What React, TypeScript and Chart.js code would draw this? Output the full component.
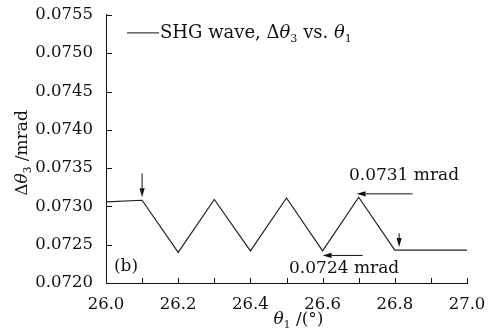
import React, { useEffect, useRef } from "react";
import { Chart, registerables } from "chart.js";

Chart.register(...registerables);

// Data
const thetaValues = [26.0, 26.1, 26.2, 26.3, 26.4, 26.5, 26.6, 26.7, 26.8, 27.0];
const deltaValues = [0.07306, 0.07308, 0.0724, 0.07309, 0.07242, 0.07311, 0.07242, 0.07312, 0.07243, 0.07243];
const xMinorTicks = [26.1, 26.3, 26.5, 26.7, 26.9];
const legendLabel = "SHG wave";

// Annotation arrows: [x0, y0, x1, y1] in data units (head at x1,y1)
const arrowDown1 = [26.1, 0.07343, 26.1, 0.07312];
const arrowDown2 = [26.812, 0.07265, 26.812, 0.07247];
const arrowLeft1 = [26.849, 0.073164, 26.694, 0.073164];
const arrowLeft2 = [26.711, 0.07236, 26.6, 0.07236];
const noteHigh = { text: "0.0731 mrad", x: 26.673, y: 0.0734 };
const noteLow = { text: "0.0724 mrad", x: 26.507, y: 0.07219 };
const panelLabel = { text: "(b)", x: 26.022, y: 0.07222 };

const SERIF = '"DejaVu Serif", "Liberation Serif", serif';

type Seg = { t: string; it?: boolean; sub?: boolean };

function drawRich(ctx: CanvasRenderingContext2D, segs: Seg[], x: number, y: number, size: number, measureOnly = false) {
  let cx = x;
  for (const s of segs) {
    const fs = s.sub ? size * 0.62 : size;
    ctx.font = `${s.it ? "italic " : ""}${fs}px ${SERIF}`;
    const w = ctx.measureText(s.t).width;
    if (!measureOnly) ctx.fillText(s.t, cx, s.sub ? y + size * 0.32 : y);
    cx += w;
  }
  return cx - x;
}

function arrow(ctx: CanvasRenderingContext2D, x0: number, y0: number, x1: number, y1: number) {
  const ang = Math.atan2(y1 - y0, x1 - x0);
  const hl = 9;
  const hw = 2.6;
  const bx = x1 - hl * Math.cos(ang);
  const by = y1 - hl * Math.sin(ang);
  ctx.beginPath();
  ctx.moveTo(x0, y0);
  ctx.lineTo(bx, by);
  ctx.stroke();
  ctx.beginPath();
  ctx.moveTo(x1, y1);
  ctx.lineTo(bx + hw * Math.sin(ang), by - hw * Math.cos(ang));
  ctx.lineTo(bx - hw * Math.sin(ang), by + hw * Math.cos(ang));
  ctx.closePath();
  ctx.fill();
}

const overlayPlugin = {
  id: "overlay",
  afterDraw(chart: any) {
    const ctx: CanvasRenderingContext2D = chart.ctx;
    const xs = chart.scales.x;
    const ys = chart.scales.y;
    const area = chart.chartArea;
    ctx.save();
    ctx.strokeStyle = "#111";
    ctx.fillStyle = "#111";
    ctx.lineWidth = 1;

    // inward ticks
    ctx.beginPath();
    xs.ticks.forEach((t: any) => {
      const px = Math.round(xs.getPixelForValue(t.value)) + 0.5;
      ctx.moveTo(px, area.bottom);
      ctx.lineTo(px, area.bottom - 5);
    });
    xMinorTicks.forEach((v) => {
      const px = Math.round(xs.getPixelForValue(v)) + 0.5;
      ctx.moveTo(px, area.bottom);
      ctx.lineTo(px, area.bottom - 5);
    });
    ys.ticks.forEach((t: any) => {
      const py = Math.round(ys.getPixelForValue(t.value)) + 0.5;
      ctx.moveTo(area.left, py);
      ctx.lineTo(area.left + 6, py);
    });
    ctx.stroke();

    // arrows
    ctx.lineWidth = 1;
    for (const a of [arrowDown1, arrowDown2, arrowLeft1, arrowLeft2]) {
      arrow(ctx, xs.getPixelForValue(a[0]), ys.getPixelForValue(a[1]), xs.getPixelForValue(a[2]), ys.getPixelForValue(a[3]));
    }

    // notes
    ctx.textBaseline = "middle";
    ctx.textAlign = "left";
    ctx.font = `17px ${SERIF}`;
    for (const n of [noteHigh, noteLow, panelLabel]) {
      ctx.fillText(n.text, xs.getPixelForValue(n.x), ys.getPixelForValue(n.y));
    }

    // legend
    const ly = area.top + 18;
    ctx.beginPath();
    ctx.moveTo(area.left + 21, ly);
    ctx.lineTo(area.left + 53, ly);
    ctx.stroke();
    drawRich(
      ctx,
      [
        { t: legendLabel + ", Δ" },
        { t: "θ", it: true },
        { t: "3", sub: true },
        { t: " vs. " },
        { t: "θ", it: true },
        { t: "1", sub: true },
      ],
      area.left + 54,
      ly,
      18
    );

    // x title
    const xt: Seg[] = [{ t: "θ", it: true }, { t: "1", sub: true }, { t: " /(°)" }];
    const xw = drawRich(ctx, xt, 0, 0, 17, true);
    drawRich(ctx, xt, (area.left + area.right) / 2 + 12 - xw / 2, 320, 17);

    // y title
    const yt: Seg[] = [{ t: "Δ" }, { t: "θ", it: true }, { t: "3", sub: true }, { t: " /mrad" }];
    const yw = drawRich(ctx, yt, 0, 0, 17, true);
    ctx.translate(23, (area.top + area.bottom) / 2 + 4);
    ctx.rotate(-Math.PI / 2);
    drawRich(ctx, yt, -yw / 2, 0, 17);
    ctx.restore();
  },
};

export default function App() {
  const ref = useRef<HTMLCanvasElement>(null);
  useEffect(() => {
    if (!ref.current) return;
    const chart = new Chart(ref.current, {
      type: "line",
      data: {
        datasets: [
          {
            label: legendLabel,
            data: thetaValues.map((x, i) => ({ x, y: deltaValues[i] })),
            borderColor: "#222",
            borderWidth: 1.2,
            pointRadius: 0,
            tension: 0,
            fill: false,
          },
        ],
      },
      options: {
        animation: false,
        responsive: false,
        maintainAspectRatio: false,
        layout: { padding: { top: 14, right: 23, left: 0, bottom: 0 } },
        plugins: { legend: { display: false }, tooltip: { enabled: false } },
        scales: {
          x: {
            type: "linear",
            min: 26,
            max: 27,
            grid: { display: false },
            border: { display: true, color: "#111", width: 1 },
            ticks: {
              stepSize: 0.2,
              padding: 4,
              color: "#111",
              font: { family: SERIF, size: 16.5 },
              callback: (v: any) => Number(v).toFixed(1),
              maxRotation: 0,
            },
            afterFit: (s: any) => {
              s.height = 53;
            },
          },
          y: {
            type: "linear",
            min: 0.072,
            max: 0.0755,
            grid: { display: false },
            border: { display: true, color: "#111", width: 1 },
            ticks: {
              stepSize: 0.0005,
              padding: 5,
              color: "#111",
              font: { family: SERIF, size: 16.5 },
              callback: (v: any) => Number(v).toFixed(4),
            },
            afterFit: (s: any) => {
              s.width = 106;
            },
          },
        },
      },
      plugins: [overlayPlugin],
    });
    return () => chart.destroy();
  }, []);
  return (
    <div style={{ position: "fixed", left: 0, top: 0, width: 490, height: 336, background: "#fff" }}>
      <canvas ref={ref} width={490} height={336} style={{ display: "block" }} />
    </div>
  );
}
